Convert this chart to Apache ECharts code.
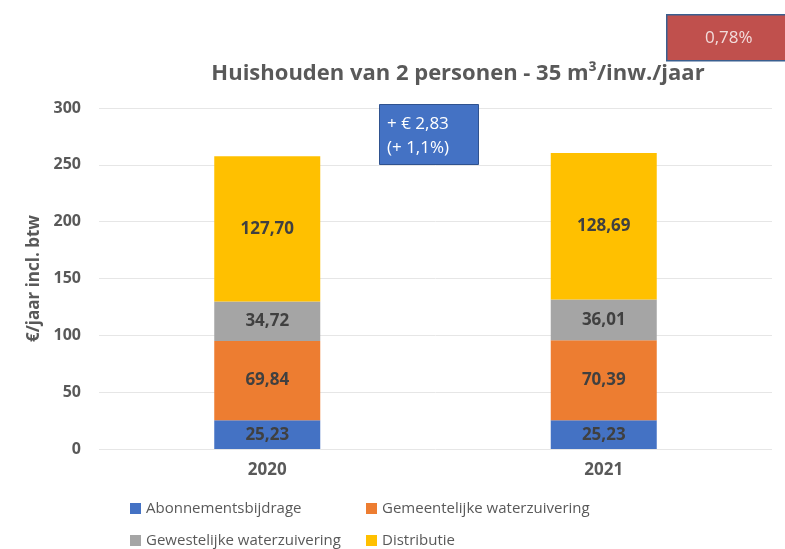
<!DOCTYPE html>
<html><head><meta charset="utf-8">
<script src="https://cdn.jsdelivr.net/npm/echarts@6/dist/echarts.min.js"></script>
<style>html,body{margin:0;padding:0;background:#fff}#c{width:785px;height:549px}</style>
</head><body><div id="c"></div>
<script>
const categories = ['2020', '2021'];
const abonnement = [25.23, 25.23];
const gemeentelijk = [69.84, 70.39];
const gewestelijk = [34.72, 36.01];
const distributie = [127.70, 128.69];
const seriesNames = ['Abonnementsbijdrage', 'Gemeentelijke waterzuivering', 'Gewestelijke waterzuivering', 'Distributie'];
const colors = ['#4472C4', '#ED7D31', '#A5A5A5', '#FFC000'];
const yTicks = [0, 50, 100, 150, 200, 250, 300];

const FONT = 'Open Sans';
const chart = echarts.init(document.getElementById('c'));
const fmt = p => p.value.toFixed(2).replace('.', ',');
const mk = (name, data, color) => ({
  name, type: 'bar', stack: 't', data, barWidth: 106,
  itemStyle: { color },
  label: { show: true, position: 'inside', formatter: fmt, color: '#404040', fontWeight: 'bold', fontSize: 17, fontFamily: FONT }
});
chart.setOption({
  animation: false,
  textStyle: { fontFamily: FONT },
  title: {
    text: 'Huishouden van 2 personen - 35 m³/inw./jaar',
    left: 453, top: 58, textAlign: 'center',
    textStyle: { fontFamily: FONT, fontSize: 22, fontWeight: 'bold', color: '#595959' }
  },
  grid: { left: 99, right: 13, top: 108, bottom: 100 },
  xAxis: {
    type: 'category', data: categories,
    axisLine: { show: false }, axisTick: { show: false },
    axisLabel: { color: '#595959', fontWeight: 'bold', fontSize: 17, fontFamily: FONT, margin: 13 }
  },
  yAxis: {
    type: 'value', min: yTicks[0], max: yTicks[yTicks.length - 1], interval: 50,
    name: '€/jaar incl. btw', nameLocation: 'middle', nameGap: 52, nameRotate: 90,
    nameTextStyle: { color: '#595959', fontWeight: 'bold', fontSize: 17, fontFamily: FONT },
    axisLine: { show: false }, axisTick: { show: false },
    axisLabel: { color: '#595959', fontWeight: 'bold', fontSize: 16, fontFamily: FONT, margin: 18 },
    splitLine: { lineStyle: { color: '#E6E6E6', width: 1 } }
  },
  legend: {
    left: 125, top: 493, width: 490,
    itemWidth: 11, itemHeight: 11, itemGap: 11, icon: 'rect',
    data: seriesNames,
    textStyle: { color: '#595959', fontSize: 15, fontFamily: FONT, width: 209, height: 21, lineHeight: 21 }
  },
  series: [
    mk(seriesNames[0], abonnement, colors[0]),
    mk(seriesNames[1], gemeentelijk, colors[1]),
    mk(seriesNames[2], gewestelijk, colors[2]),
    mk(seriesNames[3], distributie, colors[3])
  ],
  graphic: [
    { type: 'rect', left: 666, top: 14, z: 100, shape: { width: 125, height: 46 },
      style: { fill: '#C0504D', stroke: '#3A5F8F', lineWidth: 1.5 } },
    { type: 'text', left: 705, top: 30, z: 101,
      style: { text: '0,78%', fill: '#F2DCDB', fontSize: 17, fontFamily: FONT } },
    { type: 'rect', left: 379, top: 104, z: 100, shape: { width: 99, height: 60 },
      style: { fill: '#4472C4', stroke: '#2F528F', lineWidth: 1 } },
    { type: 'text', left: 387, top: 112, z: 101,
      style: { text: '+ € 2,83\n(+ 1,1%)', fill: '#FFFFFF', fontSize: 17, lineHeight: 24, fontFamily: FONT } }
  ]
});
</script></body></html>
